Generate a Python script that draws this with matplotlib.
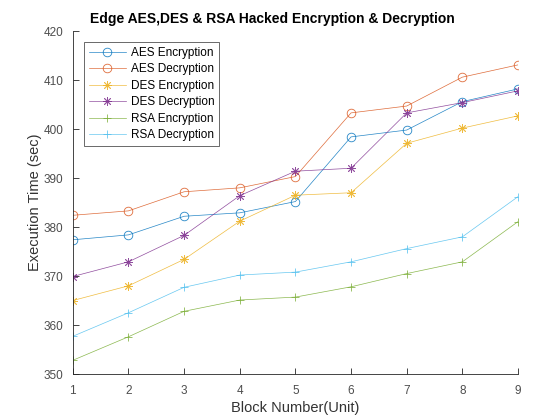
import matplotlib
matplotlib.use("Agg")
import matplotlib.pyplot as plt

plt.rcParams['font.family'] = ['Liberation Sans', 'DejaVu Sans']

blocks = [1, 2, 3, 4, 5, 6, 7, 8, 9]
aes_enc = [377.4, 378.4, 382.2, 382.9, 385.2, 398.4, 399.8, 405.6, 408.2]
aes_dec = [382.4, 383.3, 387.2, 388.0, 390.3, 403.3, 404.7, 410.6, 413.1]
des_enc = [365.0, 368.0, 373.4, 381.2, 386.5, 387.0, 397.1, 400.2, 402.7]
des_dec = [369.9, 372.9, 378.3, 386.4, 391.4, 392.0, 403.3, 405.4, 407.8]
rsa_enc = [352.8, 357.6, 362.8, 365.1, 365.7, 367.8, 370.5, 372.9, 381.1]
rsa_dec = [357.7, 362.5, 367.7, 370.2, 370.8, 372.9, 375.6, 378.0, 386.2]

asterisk = (8, 2, 0)
series = [
    ("AES Encryption", aes_enc, '#0072BD', 'o'),
    ("AES Decryption", aes_dec, '#D95319', 'o'),
    ("DES Encryption", des_enc, '#EDB120', asterisk),
    ("DES Decryption", des_dec, '#7E2F8E', asterisk),
    ("RSA Encryption", rsa_enc, '#77AC30', '+'),
    ("RSA Decryption", rsa_dec, '#4DBEEE', '+'),
]

fig = plt.figure(figsize=(5.6, 4.2), dpi=100)
ax = fig.add_axes([0.130, 0.1095, 0.795, 0.8165])

for name, vals, col, mk in series:
    ax.plot(blocks, vals, color=col, marker=mk, linewidth=0.5,
            markersize=6.2, markerfacecolor='none',
            markeredgewidth=0.6, label=name, alpha=0.85)

ax.set_xlim(1, 9)
ax.set_ylim(350, 420)
ax.set_xticks(blocks)
ax.set_yticks(range(350, 421, 10))
for s in ['top', 'right']:
    ax.spines[s].set_visible(False)
for s in ['left', 'bottom']:
    ax.spines[s].set_color('#262626')
    ax.spines[s].set_linewidth(0.6)
ax.tick_params(direction='in', length=4, width=0.6, colors='#262626',
               labelsize=8.5, labelcolor='#4d4d4d')
ax.tick_params(axis='x', pad=8)
ax.tick_params(axis='y', pad=7)
ax.set_xlabel('Block Number(Unit)', fontsize=10.5, color='#333333', labelpad=3)
ax.set_ylabel('Execution Time (sec)', fontsize=10.5, color='#333333', labelpad=1)
ax.set_title('Edge AES,DES & RSA Hacked Encryption & Decryption',
             fontsize=10, fontweight='bold', pad=6, x=0.448)

leg = ax.legend(loc='upper left', bbox_to_anchor=(0.0247, 0.968), fontsize=8.5,
                frameon=True, fancybox=False, handlelength=3.2, borderaxespad=0,
                borderpad=0.4, labelspacing=0.38, handletextpad=0.4)
leg.get_frame().set_edgecolor('#262626')
leg.get_frame().set_linewidth(0.6)

fig.savefig('out.png', dpi=100)
